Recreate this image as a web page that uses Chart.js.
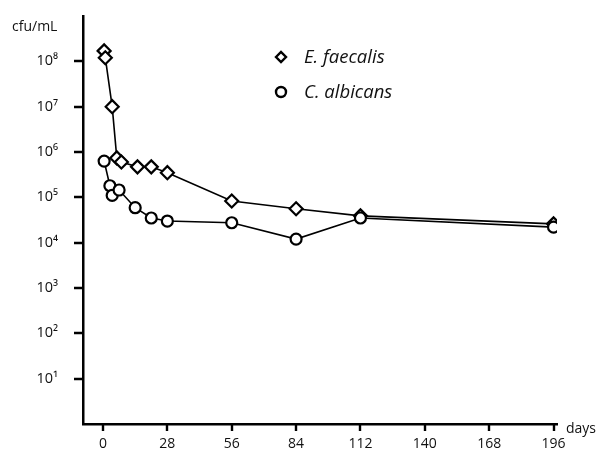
<!DOCTYPE html>
<html>
<head>
<meta charset="utf-8">
<script src="https://cdn.jsdelivr.net/npm/chart.js@4"></script>
<style>
  html, body { margin: 0; padding: 0; background: #fff; }
  #chart { display: block; }
</style>
</head>
<body>
<canvas id="chart" width="602" height="457"></canvas>
<script>
// Data (days, cfu/mL)
const faecalisDays = [0.5, 1, 4, 6, 8, 15, 21, 28, 56, 84, 112, 196];
const faecalisCfu = [1.7e8, 1.2e8, 1.0e7, 7.4e5, 6.0e5, 4.7e5, 4.7e5, 3.5e5, 8.3e4, 5.6e4, 3.9e4, 2.6e4];
const albicansDays = [0.5, 3, 4, 7, 14, 21, 28, 56, 84, 112, 196];
const albicansCfu = [6.3e5, 1.8e5, 1.1e5, 1.45e5, 5.9e4, 3.5e4, 3.0e4, 2.75e4, 1.2e4, 3.5e4, 2.2e4];

const xTicks = [0, 28, 56, 84, 112, 140, 168, 196];
const yTicks = [1e1, 1e2, 1e3, 1e4, 1e5, 1e6, 1e7, 1e8];
const yTickLabels = ['10¹', '10²', '10³', '10⁴', '10⁵', '10⁶', '10⁷', '10⁸'];
const seriesNames = ['E. faecalis', 'C. albicans'];

const FONT = '"Open Sans", "Noto Sans", sans-serif';

function toPoints(xs, ys) {
  return xs.map((x, i) => ({ x: x, y: ys[i] }));
}

// tick marks, legend and the two axis titles
const extras = {
  id: 'extras',
  afterDraw(chart) {
    const ctx = chart.ctx;
    const xs = chart.scales.x;
    const ys = chart.scales.y;
    ctx.save();

    // tick marks outside the axes, placed by the scales
    ctx.strokeStyle = '#000';
    ctx.lineWidth = 2.4;
    ctx.beginPath();
    xTicks.forEach(v => {
      const px = Math.round(xs.getPixelForValue(v));
      ctx.moveTo(px, xs.top);
      ctx.lineTo(px, xs.top + 7);
    });
    yTicks.forEach(v => {
      const py = Math.round(ys.getPixelForValue(v));
      ctx.moveTo(ys.right, py);
      ctx.lineTo(ys.right - 9, py);
    });
    ctx.stroke();

    ctx.fillStyle = '#111';
    ctx.textBaseline = 'middle';
    ctx.font = '14px ' + FONT;
    ctx.textAlign = 'left';
    ctx.fillText('cfu/mL', 12, 27);
    ctx.fillText('days', 566, 429);

    // legend
    const styles = ['rectRot', 'circle'];
    const rows = [57, 92];
    ctx.font = 'italic 18.5px ' + FONT;
    seriesNames.forEach((name, i) => {
      ctx.lineWidth = 2.4;
      ctx.strokeStyle = '#000';
      ctx.fillStyle = '#fff';
      Chart.helpers.drawPoint(ctx, { pointStyle: styles[i], radius: 5, borderWidth: 2.4 }, 281, rows[i]);
      ctx.fillStyle = '#111';
      ctx.fillText(name, 304, rows[i] + 1);
    });
    ctx.restore();
  }
};

new Chart(document.getElementById('chart'), {
  type: 'line',
  data: {
    datasets: [
      {
        label: seriesNames[0],
        data: toPoints(faecalisDays, faecalisCfu),
        pointStyle: 'rectRot',
        pointRadius: 6.5,
        order: 1
      },
      {
        label: seriesNames[1],
        data: toPoints(albicansDays, albicansCfu),
        pointStyle: 'circle',
        pointRadius: 5.5,
        order: 0
      }
    ]
  },
  options: {
    responsive: false,
    animation: false,
    elements: {
      line: { borderColor: '#000', borderWidth: 1.6, tension: 0 },
      point: { backgroundColor: '#fff', borderColor: '#000', borderWidth: 2.2 }
    },
    layout: { padding: { top: 16, right: 45, left: 0, bottom: 0 } },
    plugins: {
      legend: { display: false },
      tooltip: { enabled: false }
    },
    scales: {
      x: {
        type: 'linear',
        min: -8.7,
        max: 197.5,
        afterBuildTicks: (scale) => { scale.ticks = xTicks.map(v => ({ value: v })); },
        afterFit: (scale) => { scale.height = 33; },
        grid: { display: false, drawTicks: true, tickLength: 7 },
        border: { display: true, color: '#000', width: 2.5 },
        ticks: { color: '#111', font: { family: FONT, size: 14 }, padding: 5, maxRotation: 0 }
      },
      y: {
        type: 'logarithmic',
        min: 1,
        max: 1e9,
        afterBuildTicks: (scale) => { scale.ticks = yTicks.map(v => ({ value: v })); },
        afterFit: (scale) => {
          scale.width = 83;
          scale.paddingTop = 0;
          scale.paddingBottom = 0;
        },
        grid: { display: false, drawTicks: true, tickLength: 9 },
        border: { display: true, color: '#000', width: 2.5 },
        ticks: {
          color: '#111',
          font: { family: FONT, size: 14.5 },
          padding: 16,
          callback: (value) => {
            const i = yTicks.indexOf(value);
            return i >= 0 ? yTickLabels[i] : '';
          }
        }
      }
    }
  },
  plugins: [extras]
});
</script>
</body>
</html>
